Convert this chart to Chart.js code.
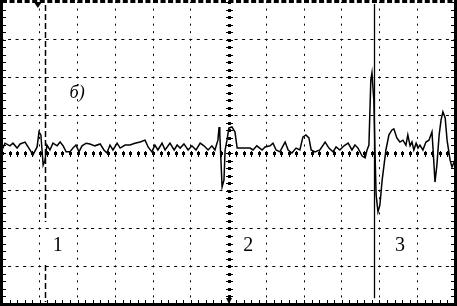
<!DOCTYPE html>
<html>
<head>
<meta charset="utf-8">
<script src="https://cdn.jsdelivr.net/npm/chart.js@4.4.1/dist/chart.umd.min.js"></script>
<style>
    html, body { margin: 0; padding: 0; background: #fff; }
    #wrap { width: 457px; height: 306px; }
</style>
</head>
<body>
<div id="wrap"><canvas id="scope" width="457" height="306"></canvas></div>
<script>
/* ─── oscillogram — trace in screen divisions (12 across, ±4 up/down) ──── */

const traceX = [
    0.00, 0.08, 0.21, 0.29, 0.40, 0.48, 0.61, 0.74, 0.82, 0.93, 0.98, 1.03, 1.06, 1.09, 1.14, 1.19,
    1.27, 1.35, 1.46, 1.54, 1.62, 1.70, 1.80, 1.88, 1.96, 2.04, 2.12, 2.23, 2.33, 2.46, 2.60, 2.70,
    2.78, 2.86, 2.94, 3.05,
    3.13, 3.26, 3.39, 3.52, 3.66, 3.79, 3.87, 3.97, 4.05, 4.13, 4.24, 4.32, 4.45, 4.56, 4.64, 4.72,
    4.82, 4.93, 5.03, 5.14, 5.25, 5.35, 5.46, 5.56, 5.64, 5.72, 5.75, 5.77, 5.80, 5.83, 5.88, 5.91,
    5.96, 6.01, 6.09, 6.17, 6.23,
    6.44, 6.57, 6.65, 6.75, 6.89, 6.97, 7.10, 7.18, 7.26, 7.36, 7.50, 7.58, 7.68, 7.79, 7.89, 7.97,
    8.05, 8.13, 8.19, 8.29, 8.42, 8.56, 8.66, 8.77, 8.85, 8.95, 9.06, 9.17, 9.27,
    9.35, 9.43, 9.54, 9.62, 9.67, 9.72, 9.77, 9.80, 9.85, 9.88, 9.91, 9.96, 10.01, 10.07, 10.12, 10.17,
    10.25, 10.33, 10.38, 10.46, 10.54, 10.62, 10.70, 10.75, 10.81, 10.86, 10.91, 10.97, 11.02, 11.07,
    11.15, 11.23, 11.31, 11.39, 11.42, 11.47, 11.52, 11.58, 11.63, 11.68, 11.74, 11.79, 11.87, 11.92, 12.00
];

const traceY = [
    0.08, 0.26, 0.19, 0.26, 0.13, 0.24, 0.29, 0.08, -0.05, 0.16, 0.56, 0.48, 0.08, -0.32, -0.19, 0.21,
    0.08, 0.26, 0.19, 0.29, 0.19, 0.03, 0.03, 0.13, 0.21, 0.03, 0.19, 0.26, 0.24, 0.19, 0.24, 0.08,
    0.00, 0.21, 0.08, 0.26,
    0.13, 0.21, 0.21, 0.26, 0.29, 0.34, 0.16, 0.03, 0.21, 0.08, 0.26, 0.08, 0.26, 0.08, 0.21, 0.13,
    0.24, 0.08, 0.19, 0.08, 0.26, 0.19, 0.08, 0.19, 0.08, 0.34, 0.69, 0.48, -0.19, -0.90, -0.72, 0.08,
    0.34, 0.66, 0.69, 0.56, 0.13,
    0.13, 0.13, 0.08, 0.19, 0.08, 0.16, 0.19, 0.26, 0.08, 0.03, 0.29, 0.08, 0.00, 0.13, 0.08, 0.42,
    0.48, 0.40, 0.08, 0.03, 0.08, 0.29, 0.13, 0.03, 0.16, 0.08, 0.19, 0.26, 0.08,
    0.21, 0.13, -0.08, -0.13, 0.08, 0.21, 1.93, 2.12, 1.40, 0.08, -1.11, -1.56, -1.38, -0.72, -0.32, 0.08,
    0.48, 0.61, 0.64, 0.40, 0.29, 0.34, 0.21, 0.48, 0.19, 0.29, 0.08, 0.26, 0.13, 0.21,
    0.08, 0.29, 0.34, 0.56, 0.08, -0.77, -0.32, 0.48, 0.87, 1.09, 0.93, 0.34, -0.19, -0.37, -0.19
];

/* cursors and marks */
const triggerX = 0.95;
const cursorDashedX = 1.14;
const cursorSolidX = 9.85;
const labelText = ['1', '2', '3'];
const labelX = [1.48, 6.52, 10.54];
const labelY = -2.46;
const panelTag = 'б)';
const panelTagX = 1.99;
const panelTagY = 1.59;

const X_DIVS = 12;
const Y_HALF = 4;
const MINOR = 0.2;

/* scope frame, centre crosshair, cursors */
const scopeDecor = {
    id: 'scopeDecor',
    beforeDatasetsDraw(chart) {
        const { ctx, chartArea: a, scales: { x, y } } = chart;
        ctx.save();
        ctx.fillStyle = '#000';
        ctx.strokeStyle = '#000';

        // centre axes: bold dot + small cross at every minor step
        const cx = Math.round(x.getPixelForValue(X_DIVS / 2));
        const cy = Math.round(y.getPixelForValue(0));
        for (let v = -Y_HALF; v <= Y_HALF + 1e-6; v += MINOR) {
            const py = Math.round(y.getPixelForValue(v));
            ctx.fillRect(cx - 1, py - 1, 3, 3);
            ctx.fillRect(cx - 3, py, 7, 1);
        }
        for (let v = 0; v <= X_DIVS + 1e-6; v += MINOR) {
            const px = Math.round(x.getPixelForValue(v));
            ctx.fillRect(px - 1, cy - 1, 3, 3);
            ctx.fillRect(px, cy - 2, 1, 6);
        }

        // frame: solid left/bottom/right, dashed top, with minor ticks
        ctx.fillRect(0, 0, 3, 306);
        ctx.fillRect(0, a.bottom - 1, 457, 3);
        ctx.fillRect(a.right - 1, 0, 3, 306);
        ctx.lineWidth = 3;
        ctx.setLineDash([5, 2.55]);
        ctx.beginPath();
        ctx.moveTo(a.left, 1.5);
        ctx.lineTo(a.right, 1.5);
        ctx.stroke();
        ctx.setLineDash([]);
        for (let v = -Y_HALF; v <= Y_HALF + 1e-6; v += MINOR) {
            const py = Math.round(y.getPixelForValue(v));
            ctx.fillRect(3, py, 3, 1);
            ctx.fillRect(a.right - 4, py, 3, 1);
        }
        for (let v = 0; v <= X_DIVS + 1e-6; v += MINOR) {
            const px = Math.round(x.getPixelForValue(v));
            ctx.fillRect(px, a.bottom - 4, 1, 3);
        }

        // trigger mark at top, centre mark at bottom
        const tx = x.getPixelForValue(triggerX);
        ctx.beginPath();
        ctx.moveTo(tx - 4, 2);
        ctx.lineTo(tx + 4, 2);
        ctx.lineTo(tx, 8);
        ctx.closePath();
        ctx.fill();
        ctx.beginPath();
        ctx.moveTo(cx - 3, a.bottom - 6);
        ctx.lineTo(cx + 3, a.bottom - 6);
        ctx.lineTo(cx, a.bottom);
        ctx.closePath();
        ctx.fill();

        // cursor 1 (dashed), cursor 3 (solid)
        const dx = Math.round(x.getPixelForValue(cursorDashedX)) + 0.5;
        ctx.lineWidth = 1.5;
        ctx.setLineDash([6, 3]);
        ctx.beginPath();
        ctx.moveTo(dx, y.getPixelForValue(3.92));
        ctx.lineTo(dx, y.getPixelForValue(-1.83));
        ctx.moveTo(dx, y.getPixelForValue(-2.97));
        ctx.lineTo(dx, y.getPixelForValue(-3.95));
        ctx.stroke();
        ctx.setLineDash([]);
        const sx = Math.round(x.getPixelForValue(cursorSolidX)) + 0.5;
        ctx.lineWidth = 1.3;
        ctx.beginPath();
        ctx.moveTo(sx, y.getPixelForValue(3.95));
        ctx.lineTo(sx, y.getPixelForValue(-3.85));
        ctx.stroke();
        ctx.restore();
    },
    afterDraw(chart) {
        const { ctx, scales: { x, y } } = chart;
        ctx.save();
        ctx.fillStyle = '#000';
        ctx.textAlign = 'center';
        ctx.textBaseline = 'middle';
        ctx.font = '20px "Liberation Serif"';
        labelText.forEach((t, i) => {
            ctx.fillText(t, x.getPixelForValue(labelX[i]), y.getPixelForValue(labelY));
        });
        ctx.font = 'italic 18px "Liberation Serif"';
        ctx.fillText(panelTag, x.getPixelForValue(panelTagX), y.getPixelForValue(panelTagY));
        ctx.restore();
    }
};

const hideEdges = (edges) => (c) => (c.tick && edges.includes(c.tick.value)) ? 'rgba(0,0,0,0)' : '#000';

new Chart(document.getElementById('scope'), {
    type: 'scatter',
    data: {
        datasets: [{
            data: traceX.map((t, i) => ({ x: t, y: traceY[i] })),
            showLine: true,
            borderColor: '#000',
            borderWidth: 1.5,
            pointRadius: 0,
            tension: 0,
        }]
    },
    options: {
        animation: false,
        responsive: false,
        events: [],
        layout: { padding: { left: 2, right: 2, top: 2, bottom: 2 } },
        plugins: { legend: { display: false }, tooltip: { enabled: false } },
        scales: {
            x: {
                type: 'linear', min: 0, max: X_DIVS,
                ticks: { display: false, stepSize: 1 },
                grid: { color: hideEdges([0, X_DIVS / 2, X_DIVS]), lineWidth: 1, drawTicks: false },
                border: { display: false, dash: [2, 5.55], dashOffset: 1 },
            },
            y: {
                type: 'linear', min: -Y_HALF, max: Y_HALF,
                ticks: { display: false, stepSize: 1 },
                grid: { color: hideEdges([-Y_HALF, 0, Y_HALF]), lineWidth: 1, drawTicks: false },
                border: { display: false, dash: [3, 4.55], dashOffset: 1.5 },
            }
        }
    },
    plugins: [scopeDecor]
});
</script>
</body>
</html>
